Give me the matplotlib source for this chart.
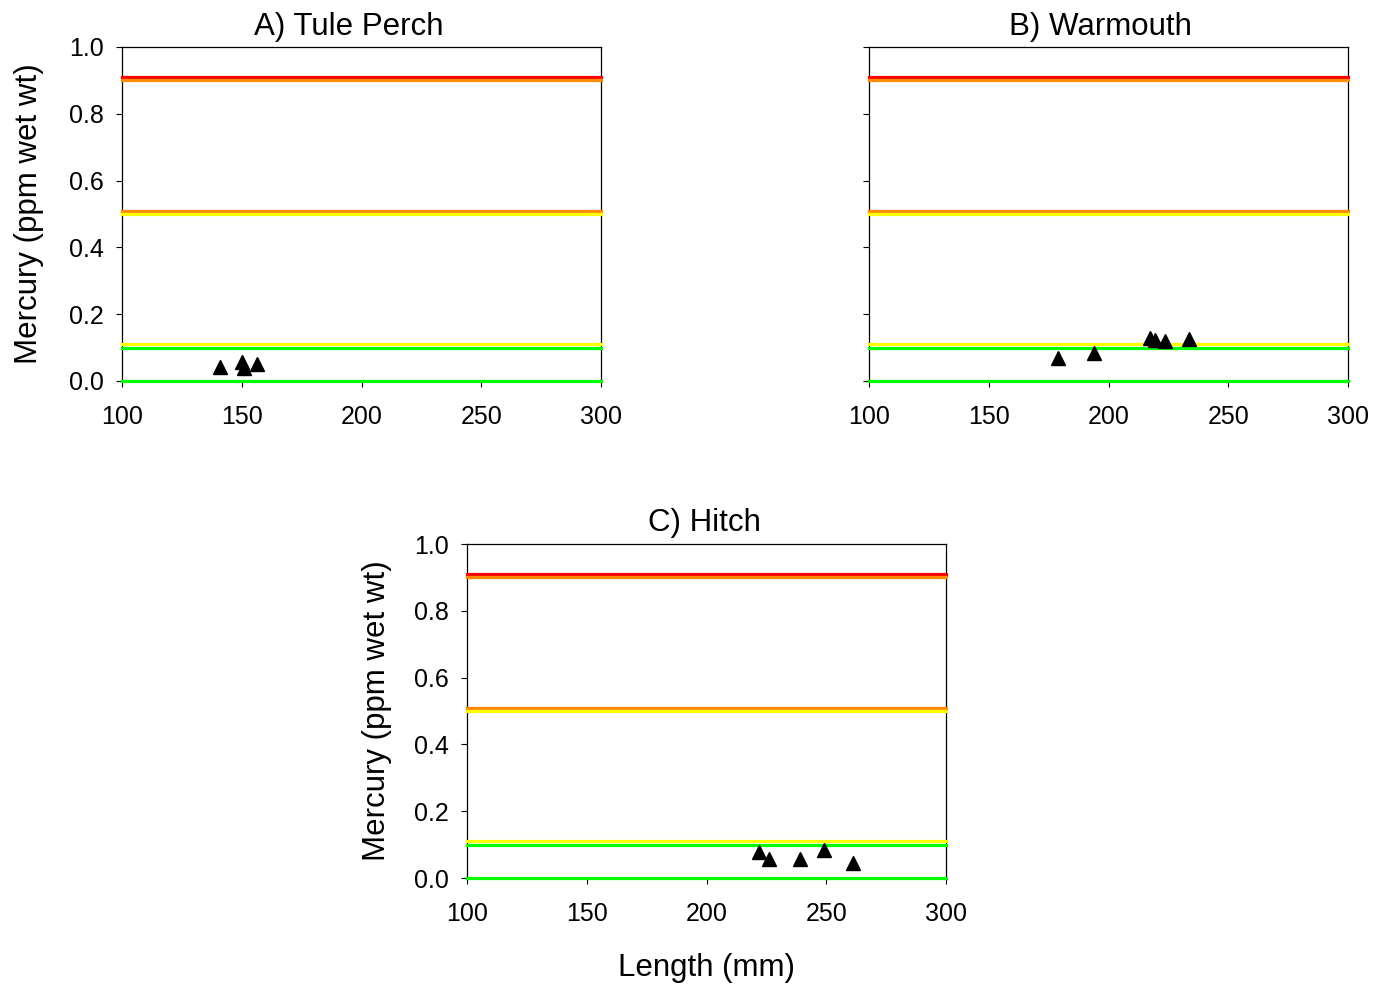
import matplotlib
matplotlib.use("Agg")
import matplotlib.pyplot as plt

plt.rcParams['font.family'] = ['Liberation Sans', 'DejaVu Sans']

# threshold lines (value, colour), drawn in this order
thresholds = [0.91, 0.90, 0.51, 0.50, 0.11, 0.10, 0.0]
threshold_colors = ['#ff0000', '#ff8c00', '#ff8c00', '#ffff00', '#ffff00', '#00ff00', '#00ff00']

# fish samples: length (mm), mercury (ppm wet wt)
tule_len = [141, 150, 151, 156.5]
tule_hg = [0.043, 0.057, 0.039, 0.051]

warm_len = [179, 194, 217.5, 219.5, 223.5, 233.5]
warm_hg = [0.068, 0.084, 0.128, 0.122, 0.120, 0.125]

hitch_len = [222, 226, 239, 249, 261]
hitch_hg = [0.077, 0.056, 0.057, 0.084, 0.046]

titles = ['A) Tule Perch', 'B) Warmouth', 'C) Hitch']
title_x = [0.473, 0.483, 0.495]
x_ticks = [100, 150, 200, 250, 300]
y_ticks = [0.0, 0.2, 0.4, 0.6, 0.8, 1.0]

W, H = 1375, 988
fig = plt.figure(figsize=(W / 100, H / 100), dpi=100)


def make_axes(left, top, right, bottom):
    return fig.add_axes([left / W, 1 - bottom / H, (right - left) / W, (bottom - top) / H])


axA = make_axes(122, 47, 601, 381)
axB = make_axes(869, 47, 1348, 381)
axC = make_axes(467, 544, 946, 878)

panels = [(axA, tule_len, tule_hg), (axB, warm_len, warm_hg), (axC, hitch_len, hitch_hg)]

for i, (ax, xs, ys) in enumerate(panels):
    for val, col in zip(thresholds, threshold_colors):
        ax.plot([100, 300], [val, val], color=col, lw=2.3, solid_capstyle='projecting',
                clip_on=False, zorder=3)
    ax.plot(xs, ys, linestyle='none', marker='^', markersize=9.5, color='black',
            clip_on=False, zorder=4)
    ax.set_xlim(100, 300)
    ax.set_ylim(0, 1.0)
    ax.set_xticks(x_ticks)
    ax.set_yticks(y_ticks)
    ax.set_yticklabels(['%.1f' % v for v in y_ticks])
    ax.tick_params(direction='out', length=4, width=0.8, labelsize=18)
    ax.tick_params(axis='x', pad=13)
    ax.tick_params(axis='y', pad=9)
    for sp in ax.spines.values():
        sp.set_linewidth(0.9)
    ax.set_title(titles[i], fontsize=22.5, pad=9, x=title_x[i])

axB.set_yticklabels([])
axA.set_ylabel('Mercury (ppm wet wt)', fontsize=22.5, labelpad=18)
axC.set_ylabel('Mercury (ppm wet wt)', fontsize=22.5, labelpad=16)
axC.set_xlabel('Length (mm)', fontsize=22.5, labelpad=20)

fig.savefig('out.png', dpi=100)
